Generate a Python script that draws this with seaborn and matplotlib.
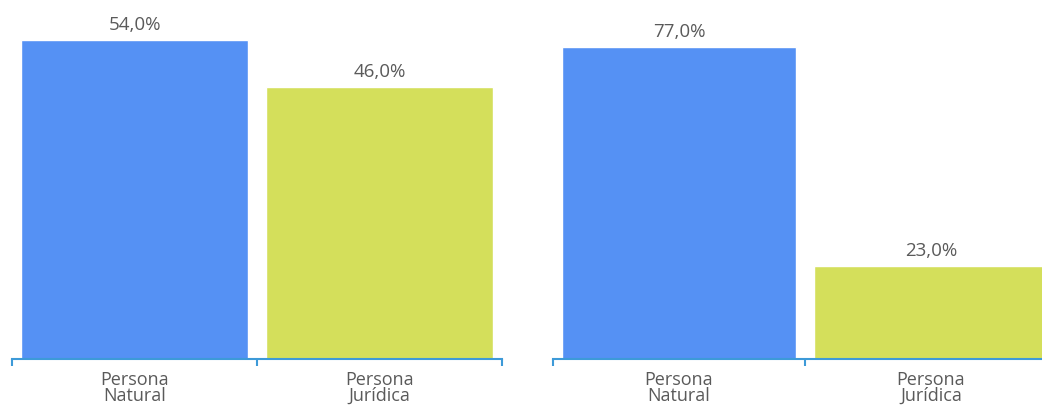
import matplotlib
matplotlib.use("Agg")
import matplotlib.pyplot as plt
import seaborn as sns
import pandas as pd
from matplotlib.ticker import FixedLocator

categories = ["Persona\nNatural", "Persona\nJurídica"]
left_values = [54.0, 46.0]
right_values = [77.0, 23.0]
colors = ["#5591f4", "#d4df5b"]

sns.set_theme(style="white")
plt.rcParams['font.family'] = ['Open Sans', 'DejaVu Sans']

fig = plt.figure(figsize=(10.42, 4.06), dpi=100)
W, H = 1042, 406
axes_specs = [
    (12, 502, left_values, 60.9),
    (553, 1057, right_values, 88.9),
]
text_color = "#5a5a5a"
axis_color = "#3d9ad8"

for x0, x1, vals, ymax in axes_specs:
    ax = fig.add_axes([x0 / W, 46 / H, (x1 - x0) / W, 360 / H])
    df = pd.DataFrame({"cat": categories, "val": vals})
    sns.barplot(data=df, x="cat", y="val", hue="cat", palette=colors,
                width=0.93, legend=False, ax=ax, saturation=1)
    ax.set_xlim(-0.5, 1.5)
    ax.set_ylim(0, ymax)
    for s in ["top", "right", "left"]:
        ax.spines[s].set_visible(False)
    ax.spines["bottom"].set_color(axis_color)
    ax.spines["bottom"].set_linewidth(1.5)
    ax.set_yticks([])
    ax.set_xlabel("")
    ax.set_ylabel("")
    ax.tick_params(axis="x", which="major", bottom=False, length=0, pad=8,
                   labelsize=13, labelcolor=text_color)
    ax.xaxis.set_minor_locator(FixedLocator([-0.5, 0.5, 1.5]))
    ax.tick_params(axis="x", which="minor", bottom=True, length=5, width=1.5,
                   color=axis_color, direction="out")
    for lbl in ax.get_xticklabels():
        lbl.set_linespacing(0.85)
        lbl.set_multialignment("center")
    for c in ax.containers:
        ax.bar_label(c, labels=[f"{v:.1f}%".replace(".", ",") for v in c.datavalues],
                     padding=5, fontsize=13.5, color=text_color)

fig.savefig("out.png", dpi=100)
